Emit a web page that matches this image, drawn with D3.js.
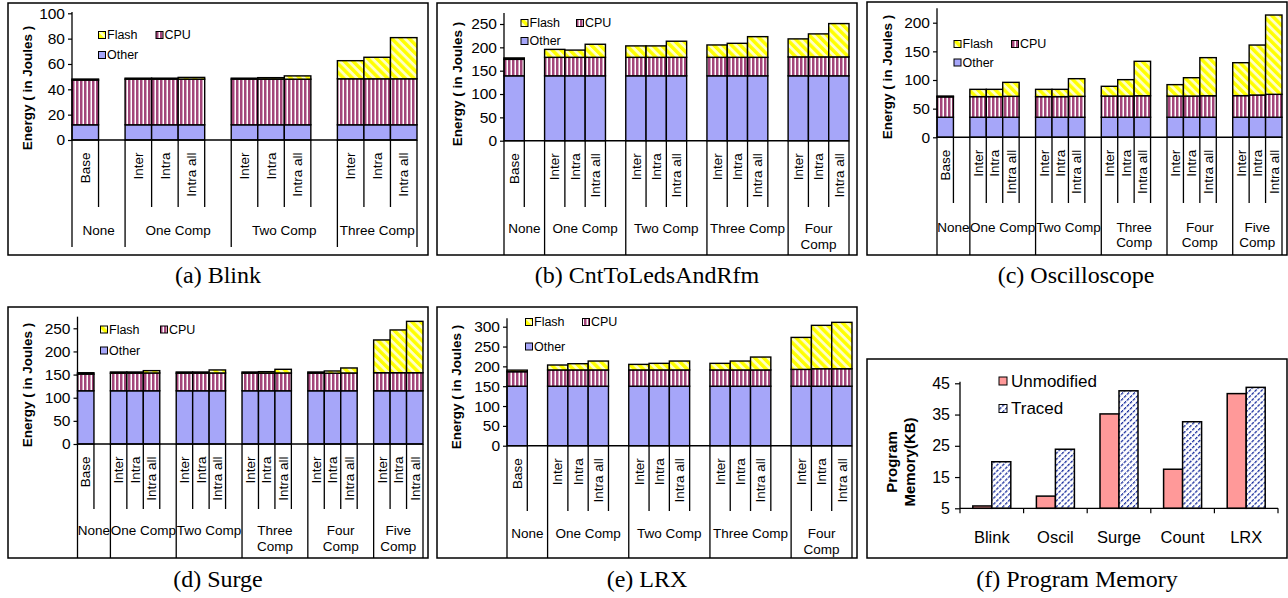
<!DOCTYPE html>
<html><head><meta charset="utf-8">
<script src="https://cdn.jsdelivr.net/npm/d3@7"></script>
<style>
body{margin:0;background:#fff;}
svg{display:block;font-family:"Liberation Sans",Arial,sans-serif;}
</style>
</head><body>
<svg id="c" width="1288" height="598"></svg>
<script>
// ---------------- DATA ----------------
const seriesNames = ["Other","CPU","Flash"];

// (a) Blink
const blinkGroups   = ["None","One Comp","Two Comp","Three Comp"];
const blinkBars     = ["Base","Inter","Intra","Intra all","Inter","Intra","Intra all","Inter","Intra","Intra all"];
const blinkBarGroup = [0,1,1,1,2,2,2,3,3,3];
const blinkOther    = [12,12,12,12,12,12,12,12,12,12];
const blinkCPU      = [35.3,36,36,36,36,36,36,36.3,36.3,36.3];
const blinkFlash    = [0.8,0.8,0.8,1.4,0.8,1.2,2.6,14.3,17,32.5];
const blinkTicks    = [0,20,40,60,80,100];

// (b) CntToLedsAndRfm
const cntGroups   = ["None","One Comp","Two Comp","Three Comp","Four\nComp"];
const cntBars     = ["Base","Inter","Intra","Intra all","Inter","Intra","Intra all","Inter","Intra","Intra all","Inter","Intra","Intra all"];
const cntBarGroup = [0,1,1,1,2,2,2,3,3,3,4,4,4];
const cntOther    = [139,139,139,139,139,139,139,139,139,139,139,139,139];
const cntCPU      = [35.3,39.6,39.6,39.6,39.6,39.6,39.6,39.6,39.6,39.6,40.5,40.5,40.5];
const cntFlash    = [3,17,15.5,28,24.5,24.5,34.5,26.5,30,44.3,38.6,49.3,71.4];
const cntTicks    = [0,50,100,150,200,250];

// (c) Oscilloscope
const oscGroups   = ["None","One Comp","Two Comp","Three\nComp","Four\nComp","Five\nComp"];
const oscBars     = ["Base","Inter","Intra","Intra all","Inter","Intra","Intra all","Inter","Intra","Intra all","Inter","Intra","Intra all","Inter","Intra","Intra all"];
const oscBarGroup = [0,1,1,1,2,2,2,3,3,3,4,4,4,5,5,5];
const oscOther    = [35,35,35,35,35,35,35,35,35,35,35,35,35,35,35,35];
const oscCPU      = [35.5,36,36,36.5,36,36,36.5,37,37,37.5,37,37,37.5,37.7,38.8,40];
const oscFlash    = [1.5,12.7,12.7,24.4,12.7,12.7,30.8,17,28.6,60.1,19.9,32,66.5,57.5,87.2,138.4];
const oscTicks    = [0,50,100,150,200];

// (d) Surge
const surgeGroups   = ["None","One Comp","Two Comp","Three\nComp","Four\nComp","Five\nComp"];
const surgeBars     = ["Base","Inter","Intra","Intra all","Inter","Intra","Intra all","Inter","Intra","Intra all","Inter","Intra","Intra all","Inter","Intra","Intra all"];
const surgeBarGroup = [0,1,1,1,2,2,2,3,3,3,4,4,4,5,5,5];
const surgeOther    = [115,115,115,115,115,115,115,115,115,115,115,115,115,115,115,115];
const surgeCPU      = [36,38,38,38.5,38,38,38.5,38,38,38.5,38,38,38.5,39,39,39];
const surgeFlash    = [3,2.6,2.6,5,2.6,2.6,6.5,2.6,3.3,7.9,2.6,4.8,10.8,70.8,92.4,111];
const surgeTicks    = [0,50,100,150,200,250];

// (e) LRX
const lrxGroups   = ["None","One Comp","Two Comp","Three Comp","Four\nComp"];
const lrxBars     = ["Base","Inter","Intra","Intra all","Inter","Intra","Intra all","Inter","Intra","Intra all","Inter","Intra","Intra all"];
const lrxBarGroup = [0,1,1,1,2,2,2,3,3,3,4,4,4];
const lrxOther    = [150,150,150,150,150,150,150,150,150,150,150,150,150];
const lrxCPU      = [36.5,41,41,41,41,41,41,41,41,41,42.4,44,44];
const lrxFlash    = [4,12.4,15.7,22.4,14,16.6,22.4,16.6,22.4,32.5,80.6,109.4,117];
const lrxTicks    = [0,50,100,150,200,250,300];

// (f) Program Memory
const memCats       = ["Blink","Oscil","Surge","Count","LRX"];
const memSeries     = ["Unmodified","Traced"];
const memUnmodified = [5.75,8.9,35.2,17.5,41.7];
const memTraced     = [19.9,23.9,42.6,32.7,43.7];
const memTicks      = [5,15,25,35,45];

// ---------------- DRAW ----------------
const svg = d3.select("#c");
const defs = svg.append("defs");
const pc = defs.append("pattern").attr("id","cpuPat").attr("patternUnits","userSpaceOnUse").attr("width",4).attr("height",4);
pc.append("rect").attr("width",4).attr("height",4).attr("fill","#fff");
pc.append("rect").attr("width",2.5).attr("height",4).attr("fill","#A3457A");
const pf = defs.append("pattern").attr("id","flashPat").attr("patternUnits","userSpaceOnUse").attr("width",6.2).attr("height",6.2).attr("patternTransform","rotate(-45)");
pf.append("rect").attr("width",6.2).attr("height",6.2).attr("fill","#FFFFC4");
pf.append("rect").attr("width",3.4).attr("height",6.2).attr("fill","#FFFF00");
const pt = defs.append("pattern").attr("id","tracedPat").attr("patternUnits","userSpaceOnUse").attr("width",4.2).attr("height",4.2).attr("patternTransform","rotate(45)");
pt.append("rect").attr("width",4.2).attr("height",4.2).attr("fill","#fff");
pt.append("rect").attr("width",1.3).attr("height",3).attr("fill","#1B2F9E");

const fills = {Other:"#A6A6F9", CPU:"url(#cpuPat)", Flash:"url(#flashPat)", Unmodified:"#FF9999", Traced:"url(#tracedPat)"};
const SANS = "Liberation Sans, Arial, sans-serif";

function frame(g, f){
  g.append("rect").attr("x",f[0]).attr("y",f[1]).attr("width",f[2]-f[0]).attr("height",f[3]-f[1])
   .attr("fill","none").attr("stroke","#000").attr("stroke-width",1.5);
}
function caption(g, c, txt){
  g.append("text").attr("x",c[0]).attr("y",c[1]).attr("text-anchor","middle")
   .attr("font-family","Liberation Serif, Times New Roman, serif").attr("font-size",24).text(txt);
}

function energyPanel(d, L){
  const g = svg.append("g");
  frame(g, L.frame);
  const slots = [], groupStart = [];
  d.groups.forEach((gn, gi) => {
    groupStart.push(slots.length);
    d.bars.forEach((b, bi) => { if (d.barGroup[bi] === gi) slots.push({id:"s"+slots.length, bar:bi}); });
    if (gi < d.groups.length-1) slots.push({id:"s"+slots.length, bar:-1});
  });
  const x = d3.scaleBand().domain(slots.map(s=>s.id)).range([L.x0, L.x1]).padding(0);
  const y = d3.scaleLinear().domain([0, d.ticks[d.ticks.length-1]]).range([L.y0, L.yTickTop]);
  const rows = d.bars.map((b,i)=>({slot: slots.find(s=>s.bar===i).id, Other:d.other[i], CPU:d.cpu[i], Flash:d.flash[i]}));
  const stack = d3.stack().keys(seriesNames)(rows);
  stack.forEach(layer => {
    g.append("g").selectAll("rect").data(layer).join("rect")
      .attr("x", p=>x(p.data.slot)).attr("width", x.bandwidth())
      .attr("y", p=>y(p[1])).attr("height", p=>Math.max(0, y(p[0])-y(p[1])))
      .attr("fill", fills[layer.key]).attr("stroke","#000").attr("stroke-width",1.4);
  });
  // y axis
  const ya = g.append("g").attr("transform",`translate(${L.x0},0)`)
    .call(d3.axisLeft(y).tickValues(d.ticks).tickSize(4).tickPadding(3).tickSizeOuter(0));
  ya.select(".domain").remove();
  ya.attr("font-family", SANS).attr("font-size", 15.5);
  ya.selectAll("line").attr("stroke","#000").attr("stroke-width",1.2);
  g.append("line").attr("x1",L.x0).attr("x2",L.x0).attr("y1",L.y0).attr("y2",L.axisTop).attr("stroke","#000").attr("stroke-width",1.3);
  g.append("line").attr("x1",L.x0).attr("x2",L.x1).attr("y1",L.y0).attr("y2",L.y0).attr("stroke","#000").attr("stroke-width",1.5);
  // category lines
  slots.forEach((s,i)=>{
    const xx = x(s.id);
    g.append("line").attr("x1",xx).attr("x2",xx).attr("y1",L.y0)
      .attr("y2", groupStart.includes(i) ? L.groupBottom : L.innerBottom)
      .attr("stroke","#000").attr("stroke-width",1.3);
  });
  g.append("line").attr("x1",L.x1).attr("x2",L.x1).attr("y1",L.y0).attr("y2",L.groupBottom).attr("stroke","#000").attr("stroke-width",1.3);
  // bar labels
  rows.forEach((r,i)=>{
    const cx = x(r.slot) + x.bandwidth()/2, cy = L.y0 + 12.5;
    g.append("text").attr("transform",`translate(${cx},${cy}) rotate(-90)`)
      .attr("text-anchor","end").attr("dy","0.35em").attr("font-size",13.5).text(d.bars[i]);
  });
  // group labels
  d.groups.forEach((gn, gi)=>{
    const xs = x(slots[groupStart[gi]].id);
    const xe = gi < d.groups.length-1 ? x(slots[groupStart[gi+1]].id) : L.x1;
    gn.split("\n").forEach((ln,k)=>{
      g.append("text").attr("x",(xs+xe)/2).attr("y",L.groupY + k*L.lineH).attr("dy","0.35em")
        .attr("text-anchor","middle").attr("font-size",13.5).text(ln);
    });
  });
  // title
  g.append("text").attr("transform",`translate(${L.tx},${L.ty}) rotate(-90)`).attr("text-anchor","middle")
    .attr("dy","0.35em").attr("font-weight","bold").attr("font-size",13.5).text("Energy ( in Joules )");
  // legend
  const items = [{k:"Flash",x:L.lx,y:L.ly1},{k:"CPU",x:L.lcpu,y:L.ly1},{k:"Other",x:L.lx,y:L.ly2}];
  items.forEach(it=>{
    g.append("rect").attr("x",it.x-3.5).attr("y",it.y-3.5).attr("width",7).attr("height",7)
      .attr("fill",fills[it.k]).attr("stroke","#000").attr("stroke-width",1);
    g.append("text").attr("x",it.x+5).attr("y",it.y).attr("dy","0.35em").attr("font-size",12.5).text(it.k);
  });
  caption(g, L.cap, L.caption);
}

energyPanel({groups:blinkGroups,bars:blinkBars,barGroup:blinkBarGroup,other:blinkOther,cpu:blinkCPU,flash:blinkFlash,ticks:blinkTicks},
  {frame:[8,3,428,255],x0:72,x1:417,y0:140,yTickTop:13.3,axisTop:12,innerBottom:207,groupBottom:247,groupY:230,lineH:16,
   tx:27,ty:88,lx:102,lcpu:159.5,ly1:35,ly2:55,cap:[218,283],caption:"(a) Blink"});
energyPanel({groups:cntGroups,bars:cntBars,barGroup:cntBarGroup,other:cntOther,cpu:cntCPU,flash:cntFlash,ticks:cntTicks},
  {frame:[437,3,857,255],x0:504,x1:849,y0:140.7,yTickTop:24,axisTop:13,innerBottom:207,groupBottom:255,groupY:228,lineH:16.5,
   tx:457,ty:84,lx:524.5,lcpu:580,ly1:23,ly2:41,cap:[647,283],caption:"(b) CntToLedsAndRfm"});
energyPanel({groups:oscGroups,bars:oscBars,barGroup:oscBarGroup,other:oscOther,cpu:oscCPU,flash:oscFlash,ticks:oscTicks},
  {frame:[867,2,1287,255],x0:937,x1:1282,y0:137.3,yTickTop:22.7,axisTop:8.3,innerBottom:203,groupBottom:255,groupY:227,lineH:15.5,
   tx:887,ty:77,lx:957.5,lcpu:1015,ly1:44,ly2:62.5,cap:[1076,283],caption:"(c) Oscilloscope"});
energyPanel({groups:surgeGroups,bars:surgeBars,barGroup:surgeBarGroup,other:surgeOther,cpu:surgeCPU,flash:surgeFlash,ticks:surgeTicks},
  {frame:[8,307,428,558],x0:77.5,x1:423,y0:444,yTickTop:328.3,axisTop:316.7,innerBottom:509,groupBottom:558,groupY:530,lineH:16,
   tx:27,ty:385,lx:104,lcpu:164,ly1:329.5,ly2:350.5,cap:[218,587],caption:"(d) Surge"});
energyPanel({groups:lrxGroups,bars:lrxBars,barGroup:lrxBarGroup,other:lrxOther,cpu:lrxCPU,flash:lrxFlash,ticks:lrxTicks},
  {frame:[437,307,857,558],x0:507,x1:852,y0:445.7,yTickTop:326.7,axisTop:318.3,innerBottom:511,groupBottom:558,groupY:533,lineH:16,
   tx:456,ty:387,lx:529,lcpu:586,ly1:322,ly2:346.5,cap:[647,587],caption:"(e) LRX"});

// (f)
(function(){
  const L = {frame:[867,359,1287,558],x0:960,x1:1278,y0:508.3,yTop:383.3,axisTop:381.7};
  const g = svg.append("g");
  frame(g, L.frame);
  const x = d3.scaleBand().domain(memCats).range([L.x0,L.x1]).padding(0);
  const y = d3.scaleLinear().domain([memTicks[0], memTicks[memTicks.length-1]]).range([L.y0, L.yTop]);
  const pairW = 38;
  const xs = d3.scaleBand().domain(memSeries).range([-pairW/2, pairW/2]).padding(0);
  const vals = {Unmodified:memUnmodified, Traced:memTraced};
  memSeries.forEach(sn=>{
    g.append("g").selectAll("rect").data(memCats).join("rect")
      .attr("x",(c)=>x(c)+x.bandwidth()/2+xs(sn)).attr("width",xs.bandwidth())
      .attr("y",(c,i)=>y(vals[sn][i])).attr("height",(c,i)=>y(memTicks[0])-y(vals[sn][i]))
      .attr("fill",fills[sn]).attr("stroke","#000").attr("stroke-width",1.5);
  });
  const ya = g.append("g").attr("transform",`translate(${L.x0},0)`)
    .call(d3.axisLeft(y).tickValues(memTicks).tickSize(5).tickPadding(5).tickSizeOuter(0));
  ya.select(".domain").remove();
  ya.attr("font-family",SANS).attr("font-size",16);
  ya.selectAll("line").attr("stroke","#000").attr("stroke-width",1.2);
  g.append("line").attr("x1",L.x0).attr("x2",L.x0).attr("y1",L.y0).attr("y2",L.axisTop).attr("stroke","#000").attr("stroke-width",1.3);
  g.append("line").attr("x1",L.x0).attr("x2",L.x1).attr("y1",L.y0).attr("y2",L.y0).attr("stroke","#000").attr("stroke-width",1.3);
  memCats.concat([null]).forEach(c=>{
    const xx = c===null ? L.x1 : x(c);
    g.append("line").attr("x1",xx).attr("x2",xx).attr("y1",L.y0).attr("y2",L.y0+5).attr("stroke","#000").attr("stroke-width",1.2);
  });
  memCats.forEach(c=>{
    g.append("text").attr("x",x(c)+x.bandwidth()/2).attr("y",537).attr("dy","0.35em").attr("text-anchor","middle")
      .attr("font-size",16.5).text(c);
  });
  ["Program","Memory(KB)"].forEach((t,k)=>{
    g.append("text").attr("transform",`translate(${892+k*18},462) rotate(-90)`).attr("text-anchor","middle")
      .attr("dy","0.35em").attr("font-weight","bold").attr("font-size",15).text(t);
  });
  [{k:"Unmodified",y:381},{k:"Traced",y:408.5}].forEach(it=>{
    g.append("rect").attr("x",999).attr("y",it.y-4).attr("width",8).attr("height",8)
      .attr("fill",fills[it.k]).attr("stroke","#000").attr("stroke-width",1);
    g.append("text").attr("x",1011).attr("y",it.y).attr("dy","0.35em").attr("font-size",17).text(it.k);
  });
  caption(g,[1077,587],"(f) Program Memory");
})();
</script>
</body></html>
